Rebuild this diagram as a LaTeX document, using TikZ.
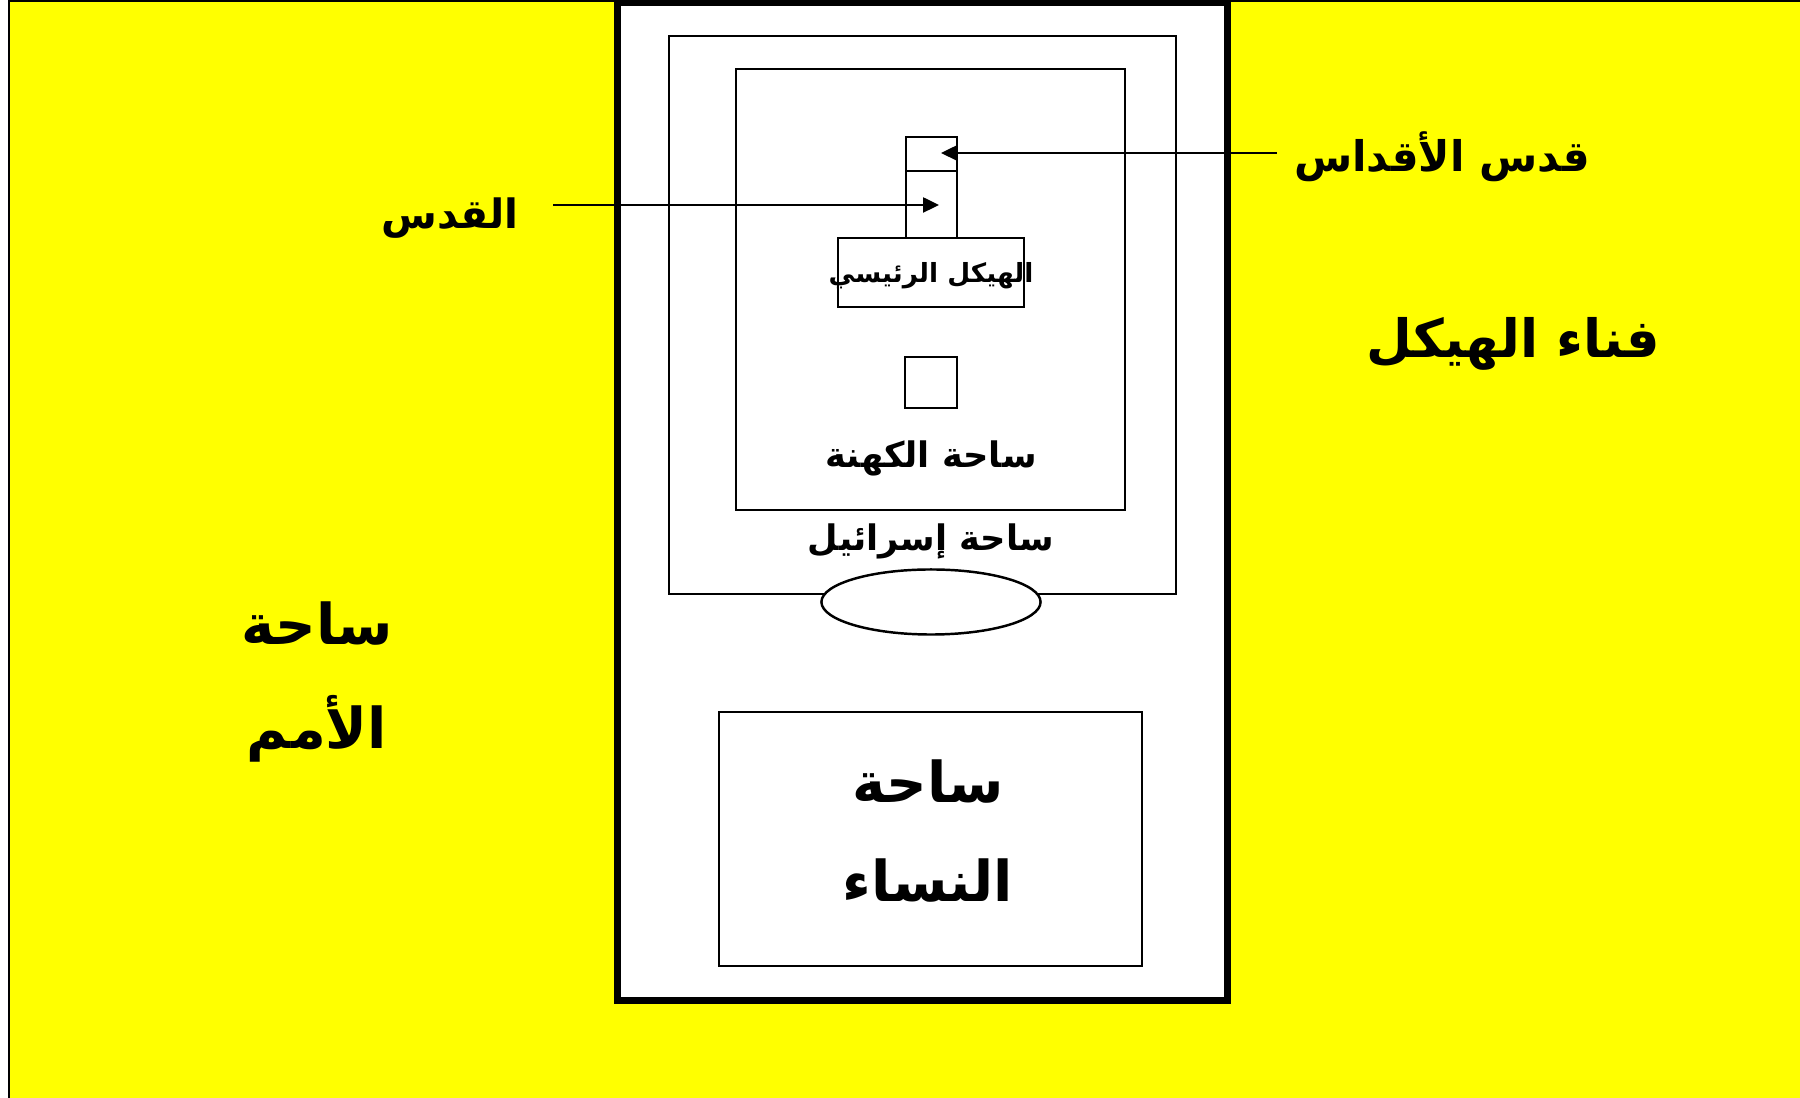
\documentclass[tikz,border=0pt]{standalone}
\usepackage{fontspec}
\setmainfont{Liberation Sans}
\newfontfamily\arabicfont[Script=Arabic]{DejaVu Sans}
\TeXXeTstate=1
\usetikzlibrary{arrows.meta,shapes.geometric,positioning}
\definecolor{bgyellow}{RGB}{255,255,0}
\newcommand{\artext}[1]{\beginR #1\endR}
\tikzset{box/.style={rectangle,draw,fill=white,line width=0.7pt,inner sep=0pt},
  lbl/.style={font=\arabicfont\bfseries\fontsize{10}{12}\selectfont,inner sep=0pt,align=center},
  biglbl/.style={font=\arabicfont\bfseries\fontsize{16}{28}\selectfont,inner sep=0pt,align=center},
  arr/.style={-{Triangle[length=0.16cm,width=0.15cm]},line width=0.7pt}}

\begin{document}
\begin{tikzpicture}[x=0.01cm,y=-0.01cm]
    \useasboundingbox (0,0) rectangle (1800,1098);
    \fill[bgyellow] (9,1) rectangle (1800,1098);
    \draw[line width=0.6pt] (9,1098) -- (9,1) -- (1800,1);

    \node[box,line width=2pt,minimum width=6.09cm,minimum height=9.97cm] (wall) at (922.5,501.5) {};
    \node[box,minimum width=5.07cm,minimum height=5.58cm] (israel) at (922.5,315) {};
    \node[box,minimum width=3.89cm,minimum height=4.41cm] (priests) at (930.5,289.5) {};
    \node[box,minimum width=0.51cm,minimum height=0.34cm] (hoh) at (931.5,154) {};
    \node[box,minimum width=0.51cm,minimum height=0.67cm] (holy) at (931.5,204.5) {};
    \node[box,minimum width=1.86cm,minimum height=0.69cm] (temple) at (931,272.5) {};
    \node[lbl,font=\arabicfont\bfseries\fontsize{7.5}{9}\selectfont] (templelbl) at (931,276) {\artext{الهيكل الرئيسي}};
    \node[box,minimum width=0.52cm,minimum height=0.51cm] (altar) at (931,382.5) {};
    \node[ellipse,draw,fill=white,line width=0.7pt,minimum width=2.19cm,minimum height=0.65cm] (gate) at (931,602) {};
    \node[box,minimum width=4.23cm,minimum height=2.54cm] (women) at (930.5,839) {};

    \node[lbl] (priestslbl) at (931,458) {\artext{ساحة الكهنة}};
    \node[lbl] (israellbl) at (931,541) {\artext{ساحة إسرائيل}};
    \node[biglbl] (womenlbl) at (928,831) {\artext{ساحة}\\\artext{النساء}};
    \node[biglbl,font=\arabicfont\bfseries\fontsize{16}{29.5}\selectfont] (gentileslbl) at (317,682) {\artext{ساحة}\\\artext{الأمم}};
    \node[biglbl,font=\arabicfont\bfseries\fontsize{15}{18}\selectfont] (courtlbl) at (1513,344) {\artext{فناء الهيكل}};
    \node[lbl,font=\arabicfont\bfseries\fontsize{12}{14}\selectfont] (hohlbl) at (1442,157) {\artext{قدس الأقداس}};
    \node[lbl,font=\arabicfont\bfseries\fontsize{11.5}{14}\selectfont] (holylbl) at (450,218) {\artext{القدس}};

    \coordinate (hohtip) at (941,153);
    \coordinate (holytip) at (939,205);
    \draw[arr] ([xshift=-0.17cm]hohlbl.west |- hohtip) -- (hohtip);
    \draw[arr] ([xshift=0.34cm]holylbl.east |- holytip) -- (holytip);
\end{tikzpicture}
\end{document}
